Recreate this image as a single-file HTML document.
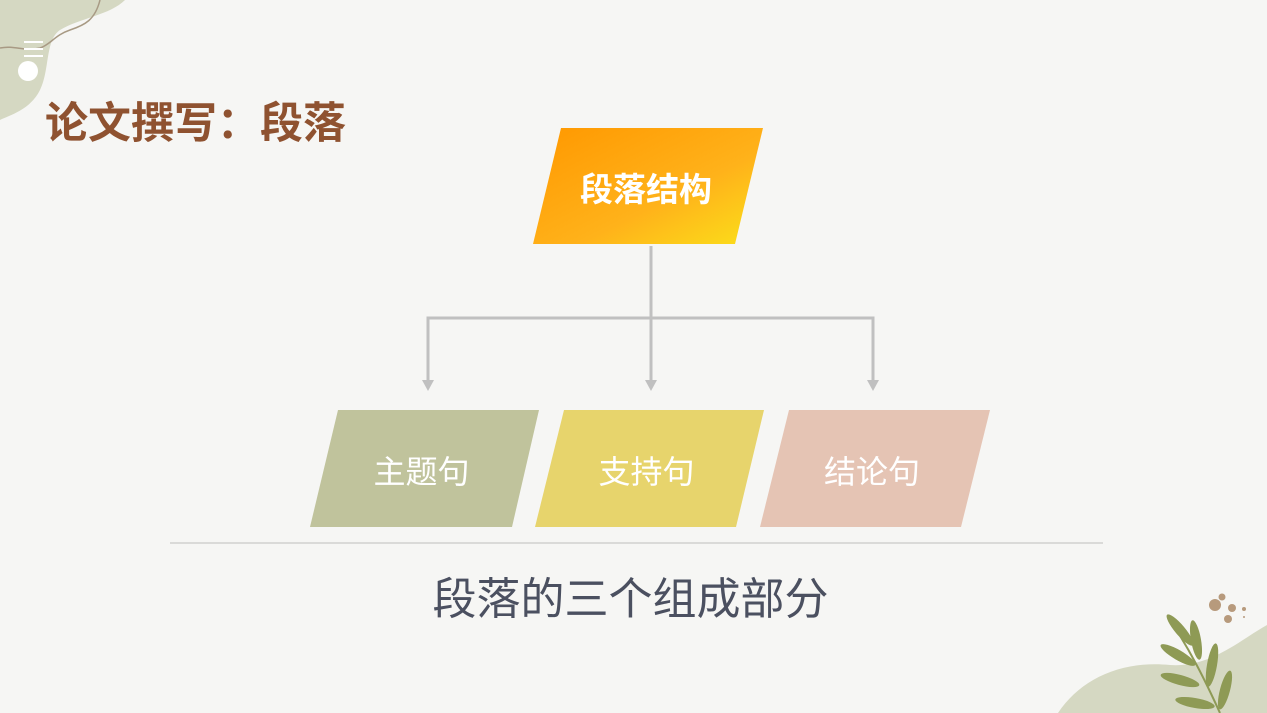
<!DOCTYPE html>
<html><head><meta charset="utf-8"><style>
html,body{margin:0;padding:0}
body{width:1267px;height:713px;background:#f6f6f4;position:relative;overflow:hidden;font-family:"Liberation Sans","Noto Sans CJK SC",sans-serif}
.t{position:absolute;white-space:nowrap}
</style></head><body>
<svg width="1267" height="713" style="position:absolute;left:0;top:0">
<defs><linearGradient id="g" x1="0" y1="0" x2="1" y2="1">
<stop offset="0" stop-color="#ff9800"/><stop offset="0.6" stop-color="#ffb21a"/><stop offset="1" stop-color="#fbe01a"/></linearGradient></defs>
<path d="M0,0 L125,0 C110,15 80,18 60,30 C45,40 50,70 40,90 C30,110 10,115 0,120 Z" fill="#d5d8c2"/>
<path d="M100,0 C95,20 85,25 70,30 C55,35 50,45 40,48 C25,52 15,45 0,48" fill="none" stroke="#a89a84" stroke-width="1.5"/>
<g stroke="#fff" stroke-width="2"><line x1="24" y1="42" x2="43" y2="42"/><line x1="24" y1="49" x2="43" y2="49"/><line x1="24" y1="56" x2="43" y2="56"/></g>
<circle cx="28" cy="71" r="10" fill="#fff"/>
<path d="M1058,713 C1080,680 1120,660 1170,665 C1210,668 1240,640 1267,625 L1267,713 Z" fill="#d5d8c2"/>
<g fill="#8e9a55">
<ellipse cx="1180" cy="630" rx="20" ry="5" transform="rotate(50 1180 630)"/>
<ellipse cx="1178" cy="655" rx="20" ry="5" transform="rotate(30 1178 655)"/>
<ellipse cx="1180" cy="680" rx="20" ry="5" transform="rotate(15 1180 680)"/>
<ellipse cx="1196" cy="640" rx="20" ry="5" transform="rotate(80 1196 640)"/>
<ellipse cx="1212" cy="665" rx="22" ry="5" transform="rotate(100 1212 665)"/>
<ellipse cx="1225" cy="690" rx="20" ry="5" transform="rotate(105 1225 690)"/>
<ellipse cx="1195" cy="703" rx="20" ry="5" transform="rotate(10 1195 703)"/>
</g>
<path d="M1170,620 C1190,650 1205,680 1220,713" stroke="#8e9a55" stroke-width="2" fill="none"/>
<g fill="#b79a7c"><circle cx="1215" cy="605" r="6"/><circle cx="1222" cy="597" r="3.5"/><circle cx="1232" cy="608" r="4"/><circle cx="1228" cy="619" r="4"/><circle cx="1244" cy="609" r="2"/><circle cx="1244" cy="617" r="1"/></g>
<polygon points="561,128 763,128 735,244 533,244" fill="url(#g)"/>
<polygon points="338,410 539,410 512,527 310,527" fill="#c0c39c"/>
<polygon points="564,410 764,410 736,527 535,527" fill="#e7d46c"/>
<polygon points="789,410 990,410 961,527 760,527" fill="#e5c4b4"/>
<g stroke="#c0c0c0" stroke-width="3" fill="none">
<line x1="651" y1="246" x2="651" y2="382"/>
<polyline points="428,382 428,318 873,318 873,382"/>
</g>
<g fill="#c0c0c0">
<polygon points="422,380 434,380 428,391"/><polygon points="645,380 657,380 651,391"/><polygon points="867,380 879,380 873,391"/>
</g>
<line x1="170" y1="543" x2="1103" y2="543" stroke="#bdbdbd" stroke-width="1"/>
</svg>
<div class="t" style="left:45px;top:89px;font-size:43px;font-weight:bold;color:#8f5230">论文撰写：段落</div>
<div class="t" style="left:531px;top:163px;width:230px;text-align:center;font-size:33px;font-weight:bold;color:#fff">段落结构</div>
<div class="t" style="left:307px;top:447px;width:229px;text-align:center;font-size:32px;color:#fff">主题句</div>
<div class="t" style="left:532px;top:447px;width:229px;text-align:center;font-size:32px;color:#fff">支持句</div>
<div class="t" style="left:757px;top:447px;width:230px;text-align:center;font-size:32px;color:#fff">结论句</div>
<div class="t" style="left:0;top:563px;width:1261px;text-align:center;font-size:44px;color:#4b5060">段落的三个组成部分</div>
</body></html>
